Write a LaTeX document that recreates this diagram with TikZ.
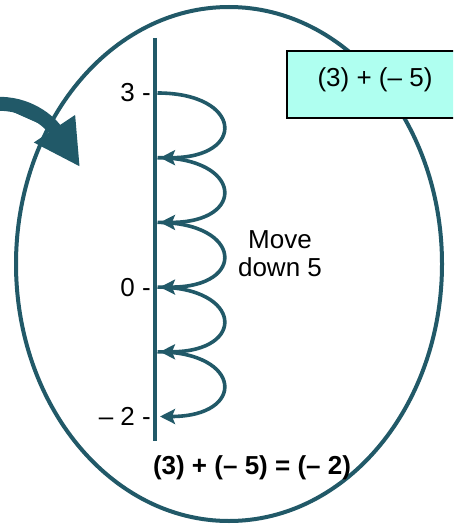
\documentclass[tikz,border=0pt]{standalone}
\usepackage{fontspec}
\setmainfont{Liberation Sans}
\usetikzlibrary{arrows.meta}
\definecolor{tealdark}{RGB}{33,89,104}
\definecolor{boxfill}{RGB}{175,255,240}
\tikzset{
  txt/.style={font=\fontsize{26}{28}\selectfont, inner sep=0pt},
  ticklbl/.style={txt, anchor=base east},
  hop/.style={draw=tealdark, line width=3.6pt, -{Stealth[length=15pt,width=15pt,inset=3pt]}},
  axisline/.style={draw=tealdark, line width=4.5pt},
  ovalline/.style={draw=tealdark, line width=4pt},
  sumbox/.style={draw=black, line width=1.3pt, fill=boxfill},
  bigarrow/.style={draw=tealdark, line width=14pt, -{Triangle[length=46pt,width=46pt]}, fill=tealdark}
}
\begin{document}
\begin{tikzpicture}[x=1pt,y=-1pt]
\useasboundingbox (0,0) rectangle (453,524);
\begin{scope}
\clip (0,0) rectangle (453,524);
% oval
\draw[ovalline] (229,264) ellipse [x radius=213pt, y radius=257pt];
% box
\draw[sumbox] (287,51) rectangle (470,118);
\node[txt] (boxtext) at (375,80) {(3) + (\textendash\ 5)};
% big arrow
\coordinate (bstart) at (-5,104);
\coordinate (btip) at (80,167);
\draw[bigarrow] (bstart) .. controls (28,102) and (50,122) .. (btip);
\end{scope}
% axis
\coordinate (axtop) at (155,38);
\coordinate (axbot) at (155,441);
\draw[axisline] (axtop) -- (axbot);
% hop points
\foreach \i/\y in {0/93,1/157.7,2/222.4,3/287.1,4/351.8,5/416.5}{
  \coordinate (s\i) at (157.5,\y);
  \coordinate (e\i) at (160,\y);
}
\foreach \a/\b in {0/1,1/2,2/3,3/4,4/5}{
  \draw[hop] (s\a) .. controls +(85,0) and +(87,0) .. (e\b);
}
% tick labels
\node[ticklbl] (l3) at (151,102) {3 -};
\node[ticklbl] (l0) at (151,296) {0 -};
\node[ticklbl] (lm2) at (151,425) {\textendash\ 2 -};
% middle text
\node[txt, align=center] (move) at (280,254) {Move\\down 5};
% result
\node[txt, font=\fontsize{26}{28}\selectfont\bfseries] (result) at (252,468) {(3) + (\textendash\ 5) = (\textendash\ 2)};
\end{tikzpicture}
\end{document}
